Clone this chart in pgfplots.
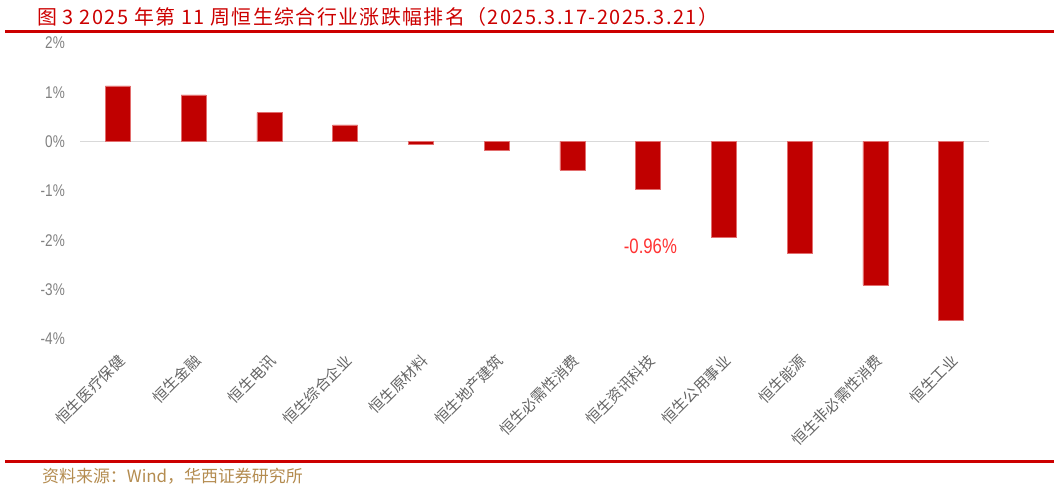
\documentclass[border=0pt]{standalone}
\usepackage{fontspec}
\usepackage{pgfplots}
\pgfplotsset{compat=1.18}
\setmainfont{Noto Sans CJK SC}
\newfontfamily\cjk{Noto Sans CJK SC}
\newfontfamily\cjkwide[LetterSpace=7]{Noto Sans CJK SC}
\newfontfamily\narrow[FakeStretch=0.8]{Liberation Sans}
\definecolor{barred}{RGB}{192,0,0}
\definecolor{barline}{RGB}{226,110,110}
\definecolor{titlered}{RGB}{204,0,0}
\definecolor{labelred}{RGB}{255,51,51}
\definecolor{srccol}{RGB}{180,140,80}
\definecolor{tickgray}{RGB}{128,128,128}
\definecolor{catgray}{RGB}{100,100,100}
\definecolor{zerogray}{RGB}{217,217,217}
\begin{document}
\begin{tikzpicture}
\useasboundingbox (0bp,0bp) rectangle (1054bp,489bp);
% title and frame lines
\node[anchor=west, text=titlered, font=\cjkwide\fontsize{20}{20}\selectfont, inner sep=0pt]
  at (37bp,472bp) {图 3 2025 年第 11 周恒生综合行业涨跌幅排名（2025.3.17-2025.3.21）};
\draw[titlered, line width=3bp] (5bp,457bp) -- (1054bp,457bp);
\draw[titlered, line width=3bp] (5bp,27bp) -- (1054bp,27bp);
\node[anchor=west, text=srccol, font=\cjk\fontsize{17}{17}\selectfont, inner sep=0pt]
  at (42bp,13bp) {资料来源：Wind，华西证券研究所};

\begin{axis}[
  at={(80bp,150bp)}, anchor=south west,
  scale only axis, width=909bp, height=296bp,
  xmin=-0.5, xmax=11.5, ymin=-4, ymax=2,
  axis line style={draw=none},
  major tick length=0pt,
  ytick={-4,-3,-2,-1,0,1,2},
  yticklabels={-4\%,-3\%,-2\%,-1\%,0\%,1\%,2\%},
  yticklabel style={font=\narrow\fontsize{17}{17}\selectfont, text=tickgray,
    anchor=east, inner sep=0pt, xshift=-15bp},
  xtick={0,1,2,3,4,5,6,7,8,9,10,11},
  xticklabels={恒生医疗保健,恒生金融,恒生电讯,恒生综合企业,恒生原材料,恒生地产建筑,
    恒生必需性消费,恒生资讯科技,恒生公用事业,恒生能源,恒生非必需性消费,恒生工业},
  xticklabel style={font=\cjk\fontsize{15}{15}\selectfont, text=catgray,
    xshift=-1bp, yshift=-14bp, rotate=45, anchor=north east, inner sep=0pt},
]
\draw[zerogray, line width=1.2bp] (axis cs:-0.5,0) -- (axis cs:11.5,0);
\addplot[ybar, bar width=25bp, fill=barred, draw=barline, line width=0.5bp] coordinates {
  (0,1.13) (1,0.95) (2,0.59) (3,0.34) (4,-0.05) (5,-0.17)
  (6,-0.57) (7,-0.96) (8,-1.93) (9,-2.27) (10,-2.91) (11,-3.62)
};
\node[font=\narrow\fontsize{21}{21}\selectfont, text=labelred] at (axis cs:7.03,-2.13) {-0.96\%};
\end{axis}
\end{tikzpicture}
\end{document}
